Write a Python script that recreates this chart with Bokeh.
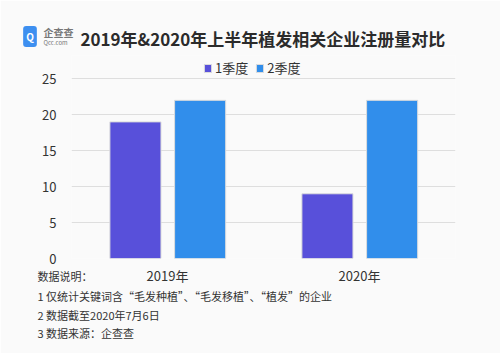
from bokeh.plotting import figure
from bokeh.models import ColumnDataSource, FactorRange, Label, Legend, LegendItem
from bokeh.transform import dodge
from bokeh.embed import file_html
from bokeh.resources import INLINE

years = ["2019年", "2020年"]
q1 = [19, 9]
q2 = [22, 22]
series_names = ["1季度", "2季度"]
yticks = [0, 5, 10, 15, 20, 25]
title_text = "2019年&2020年上半年植发相关企业注册量对比"
notes = ["数据说明：", "1 仅统计关键词含“毛发种植”、“毛发移植”、“植发”的企业", "2 数据截至2020年7月6日", "3 数据来源：企查查"]

W, H = 500, 353
FL, FT, FR, FB = 71, 55, 45, 95
FBOT = H - FB  # canvas y of frame bottom
PX_PER_UNIT = 7.19
CAT_PX = (W - FL - FR) / len(years)
FONT = "Noto Sans CJK SC"
BG = "#fafafa"
C1 = "#5850da"
C2 = "#318eeb"


def dx(x):
    # canvas x -> synthetic x coordinate of the categorical range
    return (x - FL) / CAT_PX


def dy(y):
    # canvas y -> data y
    return (FBOT - y) / PX_PER_UNIT


src = ColumnDataSource(dict(year=years, q1=q1, q2=q2))

p = figure(width=W, height=H, x_range=FactorRange(*years, range_padding=0),
           y_range=(0, (H - FB - FT) / PX_PER_UNIT),
           output_backend="svg", toolbar_location=None,
           min_border_left=FL, min_border_right=FR, min_border_top=FT, min_border_bottom=FB)
p.background_fill_color = BG
p.border_fill_color = BG
p.outline_line_color = None

r1 = p.vbar(x=dodge("year", -0.167, range=p.x_range), top="q1", width=0.266, source=src,
            fill_color=C1, line_color="#dcdcdc", line_width=1)
r2 = p.vbar(x=dodge("year", 0.17, range=p.x_range), top="q2", width=0.266, source=src,
            fill_color=C2, line_color="#dcdcdc", line_width=1)

p.xgrid.grid_line_color = None
p.ygrid.grid_line_color = "#dedede"
p.ygrid.grid_line_width = 1
p.yaxis.ticker = yticks
for ax in (p.xaxis[0], p.yaxis[0]):
    ax.axis_line_color = None
    ax.major_tick_line_color = None
    ax.minor_tick_line_color = None
    ax.major_label_text_font = FONT
    ax.major_label_text_font_size = "13px"
    ax.major_label_text_color = "#333333"
p.yaxis.major_label_standoff = 9
p.xaxis.major_label_standoff = 1

legend = Legend(items=[LegendItem(label=series_names[0], renderers=[r1]),
                       LegendItem(label=series_names[1], renderers=[r2])],
                orientation="horizontal", location=(132, FBOT - 77),
                glyph_width=9, glyph_height=10, label_standoff=3, spacing=7,
                padding=0, margin=0, border_line_alpha=0, background_fill_alpha=0,
                label_text_font=FONT, label_text_font_size="13px", label_text_color="#333333",
                label_height=14)
p.add_layout(legend)


def lab(text, x, y, side, size, color="#333333", bold=False, align="left", **kw):
    p.add_layout(Label(x=dx(x), y=dy(y), x_units="data", y_units="data", text=text,
                       text_font=FONT, text_font_size=size,
                       text_font_style="bold" if bold else "normal",
                       text_color=color, text_baseline="middle", text_align=align, **kw), side)


# title and logo (side panels are not clipped to the frame; spread so each border keeps its size)
lab(title_text, 80, 38, "above", "17px", color="#2b2b2b", bold=True)
lab("企查查", 43, 32, "left", "10px", color="#777777", bold=True)
lab("Qcc.com", 43, 42, "right", "6px", color="#777777")
lab("Q", 29.5, 36, "right", "10px", color="white", bold=True, align="center",
    background_fill_color="#3d8ff0", padding=3, border_radius=3)

# notes
note_y = [275, 295, 314, 332]
note_side = ["above", "below", "below", "below"]
for t, yy, side in zip(notes, note_y, note_side):
    lab(t, 37, yy, side, "11px")

open("out.html", "w").write(file_html(p, INLINE))
